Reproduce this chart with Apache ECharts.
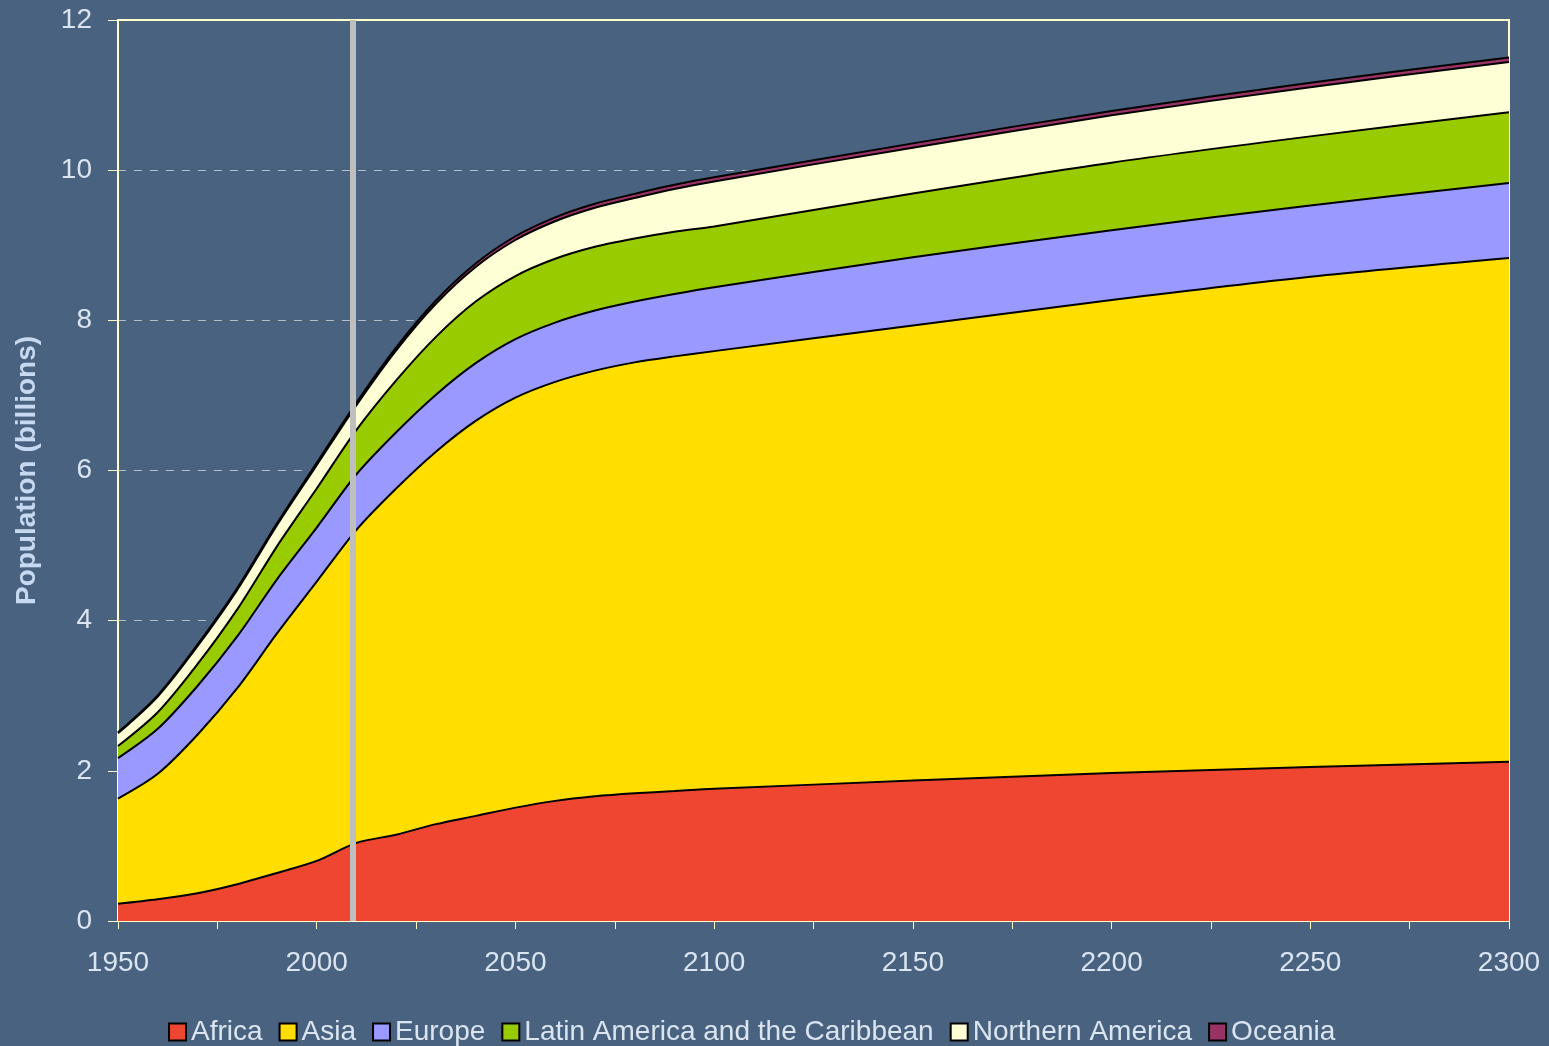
<!DOCTYPE html>
<html>
<head>
<meta charset="utf-8">
<title>World population by region, 1950-2300</title>
<script src="https://cdn.jsdelivr.net/npm/echarts@6/dist/echarts.min.js"></script>
<style>
  html, body { margin: 0; padding: 0; background: #48627f; }
  #main { width: 1549px; height: 1046px; }
</style>
</head>
<body>
<div id="main"></div>
<script type="text/javascript">
// population in billions
var years    = [1950, 1960, 1970, 1980, 1990, 2000, 2010, 2020, 2030, 2040, 2050, 2060, 2070, 2080, 2090, 2100, 2150, 2200, 2250, 2300];
var africa   = [0.23, 0.29, 0.37, 0.49, 0.64, 0.80, 1.04, 1.15, 1.29, 1.40, 1.51, 1.60, 1.66, 1.70, 1.73, 1.76, 1.87, 1.97, 2.05, 2.12];
var asia     = [1.40, 1.67, 2.11, 2.61, 3.19, 3.72, 4.17, 4.61, 4.96, 5.26, 5.46, 5.58, 5.67, 5.74, 5.79, 5.83, 6.06, 6.30, 6.53, 6.71];
var europe   = [0.54, 0.60, 0.65, 0.69, 0.72, 0.72, 0.74, 0.75, 0.76, 0.77, 0.78, 0.79, 0.80, 0.81, 0.83, 0.85, 0.91, 0.93, 0.95, 1.00];
var latinAm  = [0.16, 0.22, 0.29, 0.36, 0.44, 0.52, 0.59, 0.69, 0.77, 0.82, 0.84, 0.85, 0.85, 0.84, 0.83, 0.81, 0.85, 0.90, 0.92, 0.94];
var northAm  = [0.17, 0.21, 0.24, 0.26, 0.28, 0.31, 0.33, 0.40, 0.44, 0.46, 0.48, 0.50, 0.52, 0.54, 0.57, 0.60, 0.61, 0.63, 0.655, 0.67];
var oceania  = [0.013, 0.016, 0.020, 0.023, 0.027, 0.031, 0.036, 0.040, 0.044, 0.047, 0.050, 0.052, 0.053, 0.054, 0.055, 0.055, 0.057, 0.058, 0.060, 0.060];
var regionNames = ['Africa', 'Asia', 'Europe', 'Latin America and the Caribbean', 'Northern America', 'Oceania'];
var todayYear = 2009;

var regionData = [africa, asia, europe, latinAm, northAm, oceania];
var regionColors = ['#ee4631', '#ffde00', '#9999ff', '#99cc00', '#ffffd6', '#993366'];

// running totals: each band is drawn as an area down to zero,
// the biggest total first so the lower bands paint over it
var running = years.map(function () { return 0; });
var cumulative = regionData.map(function (vals) {
    running = running.map(function (r, i) { return r + vals[i]; });
    return years.map(function (y, i) { return [y, +running[i].toFixed(4)]; });
});

var series = [];
for (var i = regionNames.length - 1; i >= 0; i--) {
    series.push({
        name: regionNames[i],
        type: 'line',
        smooth: 0.3,
        symbol: 'none',
        z: 2,
        lineStyle: { color: '#000', width: 2 },
        itemStyle: { color: regionColors[i], borderColor: '#000', borderWidth: 2 },
        areaStyle: { color: regionColors[i], opacity: 1, origin: 'start' },
        data: cumulative[i]
    });
}

// gray "now" marker
series.push({
    name: 'now',
    type: 'line',
    data: [],
    z: 5,
    markLine: {
        silent: true,
        symbol: 'none',
        label: { show: false },
        lineStyle: { color: '#bfbfbf', width: 6, type: 'solid' },
        data: [{ xAxis: todayYear }]
    }
});

var myChart = echarts.init(document.getElementById('main'));
var option = {
    backgroundColor: '#48627f',
    animation: false,
    textStyle: { fontFamily: 'Liberation Sans, Arial, sans-serif' },
    grid: {
        left: 118, right: 40, top: 20, bottom: 125,
        containLabel: false,
        outerBoundsMode: 'none',
        show: true, borderColor: '#ffffcc', borderWidth: 2
    },
    legend: {
        data: regionNames,
        left: 163,
        top: 1013,
        itemWidth: 17,
        itemHeight: 17,
        itemGap: 16,
        icon: 'rect',
        itemStyle: { borderColor: '#000', borderWidth: 2 },
        textStyle: { color: '#dbe5f1', fontSize: 28, fontFamily: 'Liberation Sans, Arial, sans-serif' }
    },
    xAxis: {
        type: 'value',
        min: 1950,
        max: 2300,
        interval: 25,
        axisLine: { lineStyle: { color: '#ffffcc', width: 2 } },
        axisTick: { show: true, length: 8, lineStyle: { color: '#ffffcc', width: 1 } },
        axisLabel: {
            color: '#dbe5f1', fontSize: 28, margin: 28,
            formatter: function (v) { return v % 50 === 0 ? String(v) : ''; }
        },
        splitLine: { show: false }
    },
    yAxis: {
        type: 'value',
        min: 0,
        max: 12,
        interval: 2,
        name: 'Population (billions)',
        nameLocation: 'middle',
        nameGap: 77,
        nameTextStyle: { color: '#c6d9f1', fontSize: 28, fontWeight: 'bold' },
        axisLine: { show: true, lineStyle: { color: '#ffffcc', width: 2 } },
        axisTick: { show: true, length: 10, lineStyle: { color: '#ffffcc', width: 1 } },
        axisLabel: { color: '#dbe5f1', fontSize: 28, margin: 26 },
        splitLine: {
            show: true, showMinLine: false, showMaxLine: false,
            lineStyle: { color: '#b4bcc6', width: 1, type: [8, 8] }
        }
    },
    series: series
};
myChart.setOption(option);
</script>
</body>
</html>
